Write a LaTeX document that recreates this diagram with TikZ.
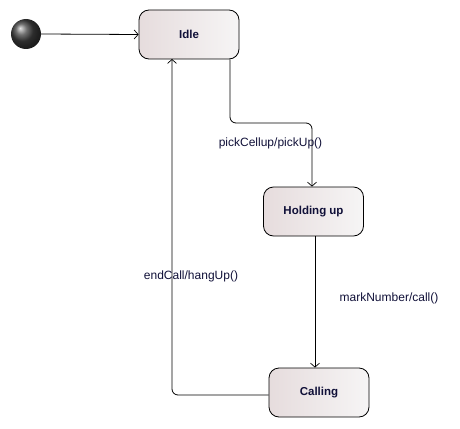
\documentclass[tikz,border=0pt]{standalone}
\usepackage{fontspec}
\setmainfont{Liberation Sans}
\usetikzlibrary{arrows.meta,calc}
\definecolor{txt}{RGB}{16,16,56}
\definecolor{fillL}{RGB}{230,220,221}
\definecolor{fillR}{RGB}{246,245,245}
\tikzset{
  state/.style={draw=black, line width=0.8pt, rounded corners=10pt,
    minimum width=100pt, minimum height=49pt, left color=fillL, right color=fillR,
    font=\fontsize{11.5}{13}\selectfont\bfseries, text=txt, inner sep=0pt},
  conn/.style={draw=black, line width=0.8pt, rounded corners=6pt,
    -{Straight Barb[length=4pt,width=9pt,line width=0.7pt]}},
  lbl/.style={font=\fontsize{12}{14}\selectfont, text=txt, inner sep=0pt}
}
\begin{document}
\begin{tikzpicture}[x=1pt,y=1pt]
\useasboundingbox (0,0) rectangle (460,-428);
\node[circle, minimum size=30pt, inner sep=0pt, shading=ball, ball color=black!75] (init) at (26,-34) {};
\node[state] (idle) at (189,-34.5) {Idle};
\node[state] (hold) at (313.5,-211.5) {Holding up};
\node[state] (call) at (319,-392.5) {Calling};
\coordinate (a) at (230,-123);
\coordinate (b) at (172,-59);
\coordinate (c) at (315,-236);
\draw[conn] (init.east) -- (idle.west);
\draw[conn] (idle.south -| a) -- (a) -| ($(hold.north)+(-1.5,0)$);
\draw[conn] (hold.south -| c) -- (call.north -| c);
\draw[conn] (call.west |- 0,-395) -| (b);
\node[lbl] (l1) at (270.5,-143) {pickCellup/pickUp()};
\node[lbl] (l2) at (191,-276) {endCall/hangUp()};
\node[lbl] (l3) at (389,-298) {markNumber/call()};
\end{tikzpicture}
\end{document}
